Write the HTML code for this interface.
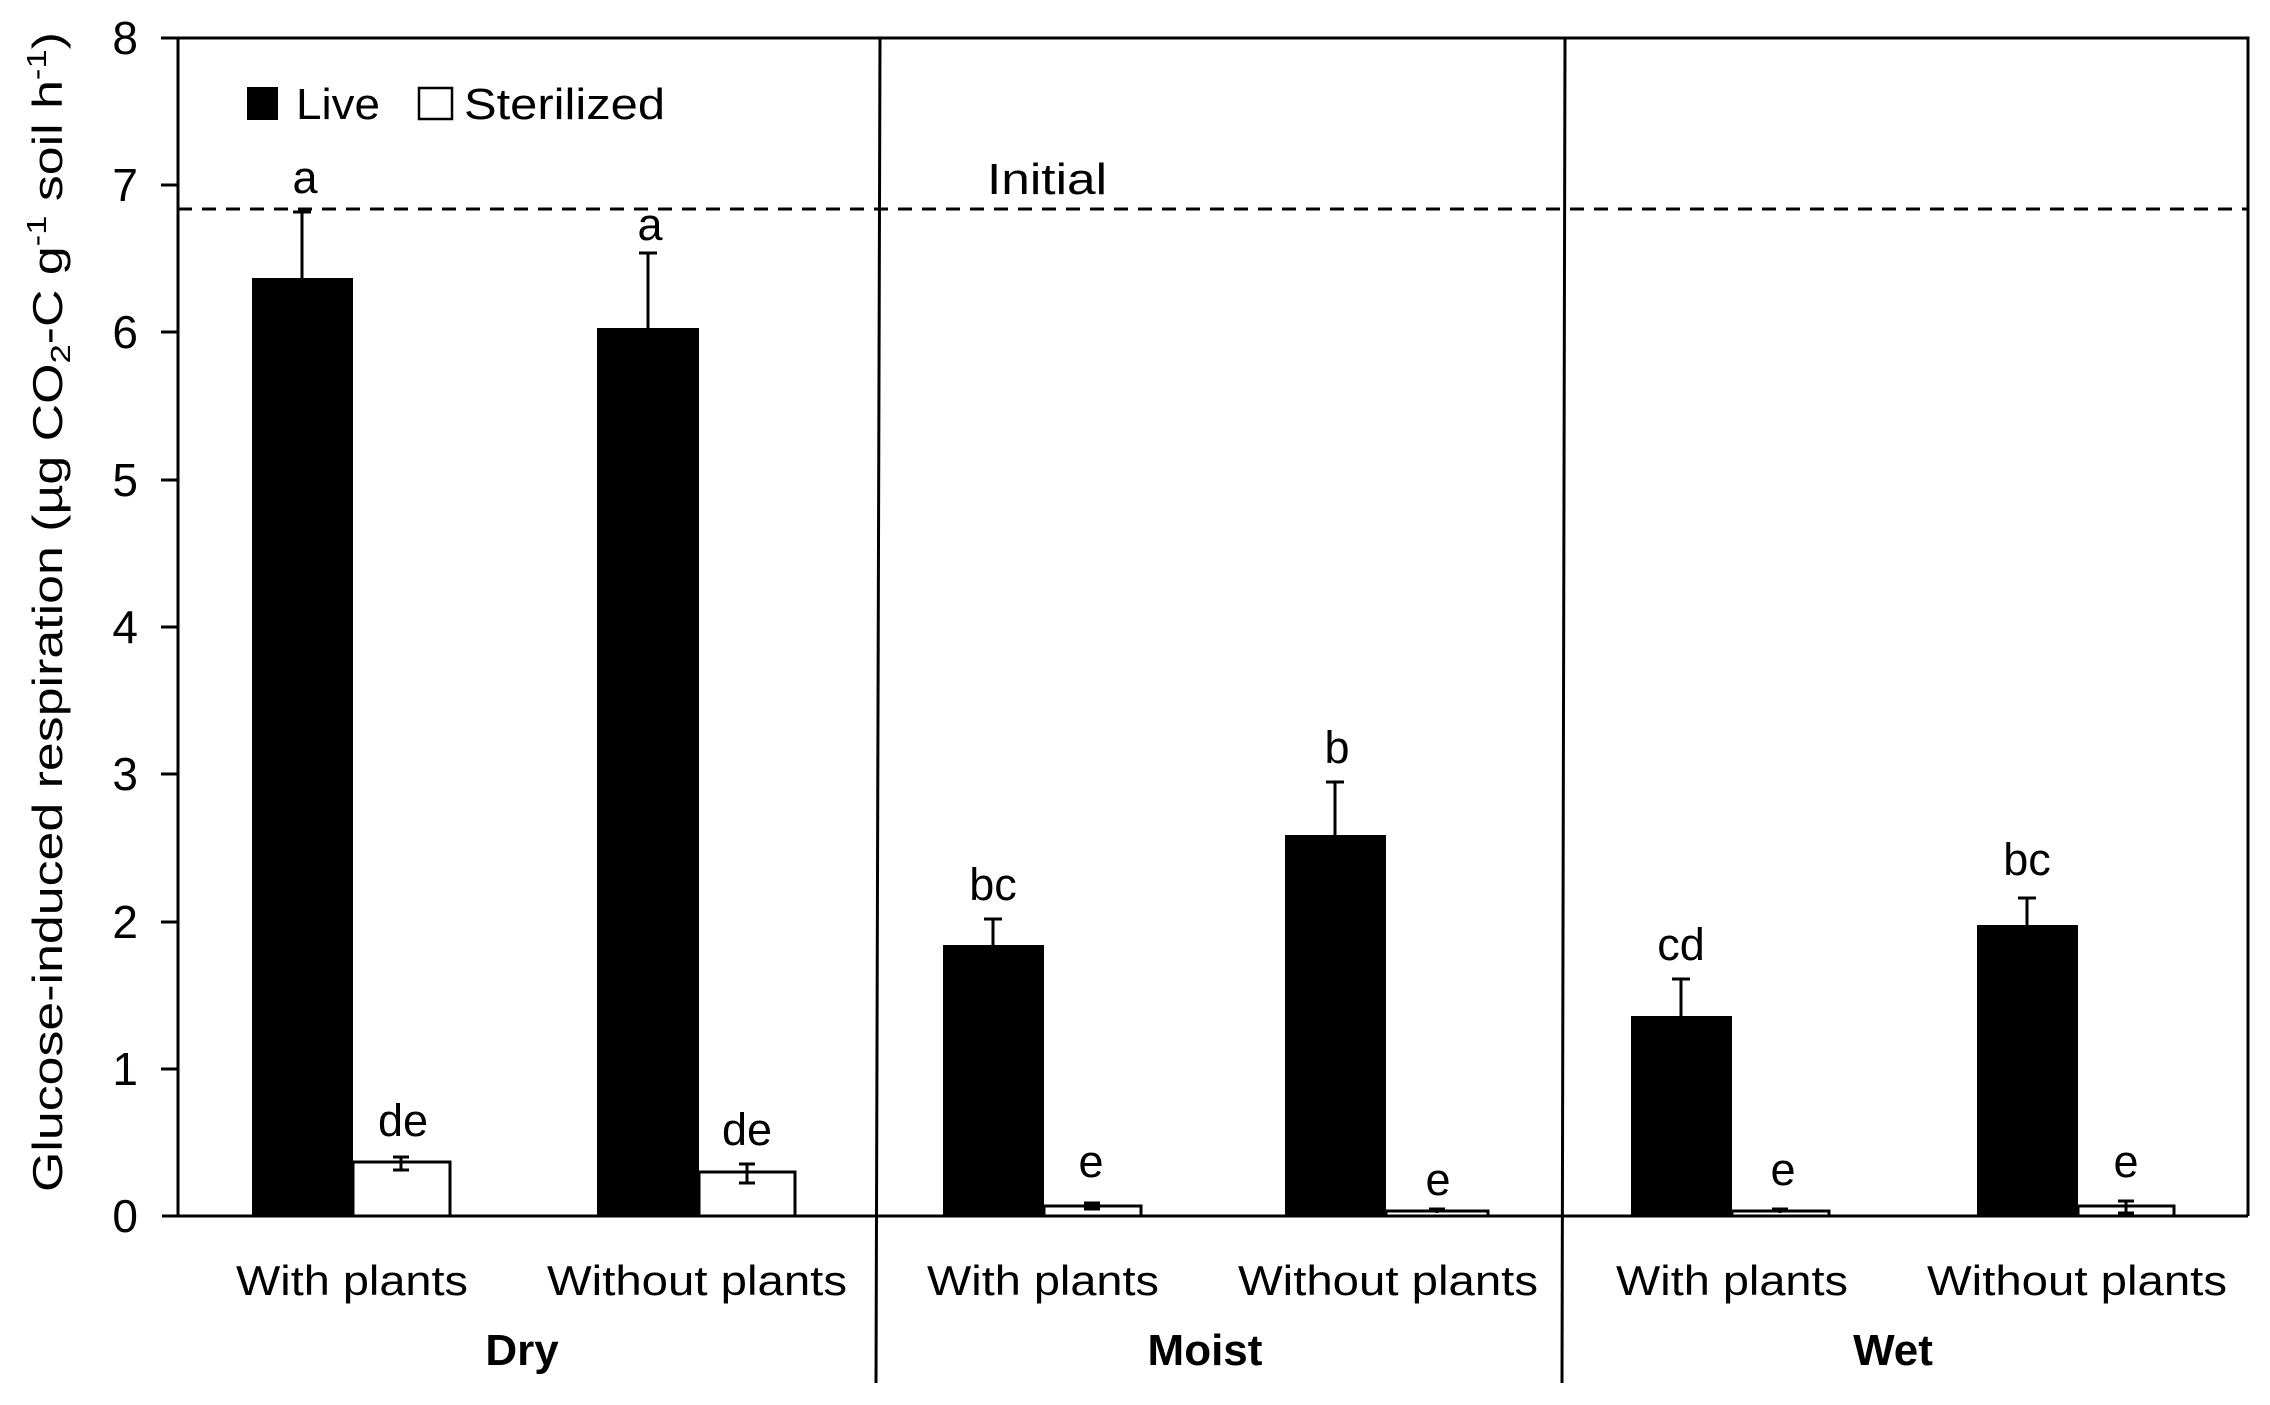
<!DOCTYPE html>
<html><head><meta charset="utf-8"><style>
html,body{margin:0;padding:0;background:#fff;}
svg{display:block;}
text{font-family:"Liberation Sans",sans-serif;fill:#000;}
</style></head><body>
<svg width="2270" height="1405" viewBox="0 0 2270 1405" xmlns="http://www.w3.org/2000/svg">
<g fill="#000">
<rect x="252" y="278" width="101" height="938"/>
<rect x="597" y="328" width="102" height="888"/>
<rect x="943" y="945" width="101" height="271"/>
<rect x="1285" y="835" width="101" height="381"/>
<rect x="1631" y="1016" width="101" height="200"/>
<rect x="1977" y="925" width="101" height="291"/>
</g>
<g fill="#fff" stroke="#000" stroke-width="3">
<rect x="353" y="1162" width="97" height="54"/>
<rect x="699" y="1172" width="96" height="44"/>
<rect x="1044" y="1206" width="97" height="10"/>
<rect x="1386" y="1211" width="102" height="5"/>
<rect x="1732" y="1211" width="97" height="5"/>
<rect x="2078" y="1206" width="96" height="10"/>
</g>
<g stroke="#000" stroke-width="3" fill="none">
<path d="M302 278V212M293 212H311"/>
<path d="M648 328V253M639 253H657"/>
<path d="M993 945V919M984 919H1002"/>
<path d="M1335 835V782M1326 782H1344"/>
<path d="M1681 1016V979M1672 979H1690"/>
<path d="M2027 925V898M2018 898H2036"/>
<path d="M401 1157V1170M393 1157H409M393 1170H409"/>
<path d="M747 1164V1183M739 1164H755M739 1183H755"/>
<path d="M1092 1203V1209M1084 1203H1100M1084 1209H1100"/>
<path d="M1437 1209V1213M1429 1209H1445"/>
<path d="M1780 1209V1213M1772 1209H1788"/>
<path d="M2126 1201V1213M2118 1201H2134M2118 1213H2134"/>
</g>
<line x1="178" y1="209" x2="2248" y2="209" stroke="#000" stroke-width="3" stroke-dasharray="14,10"/>
<g stroke="#000" stroke-width="3" fill="none">
<path d="M161 38H2248V1216"/>
<path d="M178 38V1216"/>
<path d="M162 1216H2248"/>
<path d="M880 38L876 1383"/>
<path d="M1565 38L1562 1383"/>
<path d="M161 185H178M161 332H178M161 480H178M161 627H178M161 774H178M161 922H178M161 1069H178"/>
</g>
<g font-size="46" text-anchor="end">
<text x="138" y="54">8</text>
<text x="138" y="201">7</text>
<text x="138" y="348">6</text>
<text x="138" y="496">5</text>
<text x="138" y="643">4</text>
<text x="138" y="790">3</text>
<text x="138" y="938">2</text>
<text x="138" y="1085">1</text>
<text x="138" y="1232">0</text>
</g>
<rect x="247" y="87" width="31" height="33" fill="#000"/>
<text x="296" y="119" font-size="44" textLength="84" lengthAdjust="spacingAndGlyphs">Live</text>
<rect x="419" y="88" width="33" height="31" fill="#fff" stroke="#000" stroke-width="2.5"/>
<text x="464" y="119" font-size="44" textLength="201" lengthAdjust="spacingAndGlyphs">Sterilized</text>
<text x="987" y="194" font-size="44" textLength="120" lengthAdjust="spacingAndGlyphs">Initial</text>
<g font-size="45" text-anchor="middle">
<text x="305" y="193">a</text>
<text x="650" y="240">a</text>
<text x="993" y="900">bc</text>
<text x="1337" y="763">b</text>
<text x="1681" y="960">cd</text>
<text x="2027" y="875">bc</text>
<text x="403" y="1136">de</text>
<text x="747" y="1145">de</text>
<text x="1091" y="1177">e</text>
<text x="1438" y="1195">e</text>
<text x="1783" y="1185">e</text>
<text x="2126" y="1177">e</text>
</g>
<g font-size="42" text-anchor="middle">
<text x="352" y="1295" textLength="232" lengthAdjust="spacingAndGlyphs">With plants</text>
<text x="697" y="1295" textLength="300" lengthAdjust="spacingAndGlyphs">Without plants</text>
<text x="1043" y="1295" textLength="232" lengthAdjust="spacingAndGlyphs">With plants</text>
<text x="1388" y="1295" textLength="300" lengthAdjust="spacingAndGlyphs">Without plants</text>
<text x="1732" y="1295" textLength="232" lengthAdjust="spacingAndGlyphs">With plants</text>
<text x="2077" y="1295" textLength="300" lengthAdjust="spacingAndGlyphs">Without plants</text>
</g>
<g font-size="44" font-weight="bold" text-anchor="middle">
<text x="522" y="1365">Dry</text>
<text x="1205" y="1365">Moist</text>
<text x="1893" y="1365">Wet</text>
</g>
<text transform="translate(62,612) rotate(-90)" font-size="42" text-anchor="middle" textLength="1160" lengthAdjust="spacingAndGlyphs">Glucose-induced respiration (µg CO<tspan font-size="28" dy="8">2</tspan><tspan dy="-8">-C  g</tspan><tspan font-size="28" dy="-16">-1</tspan><tspan dy="16"> soil h</tspan><tspan font-size="28" dy="-16">-1</tspan><tspan dy="16">)</tspan></text>
</svg>
</body></html>
